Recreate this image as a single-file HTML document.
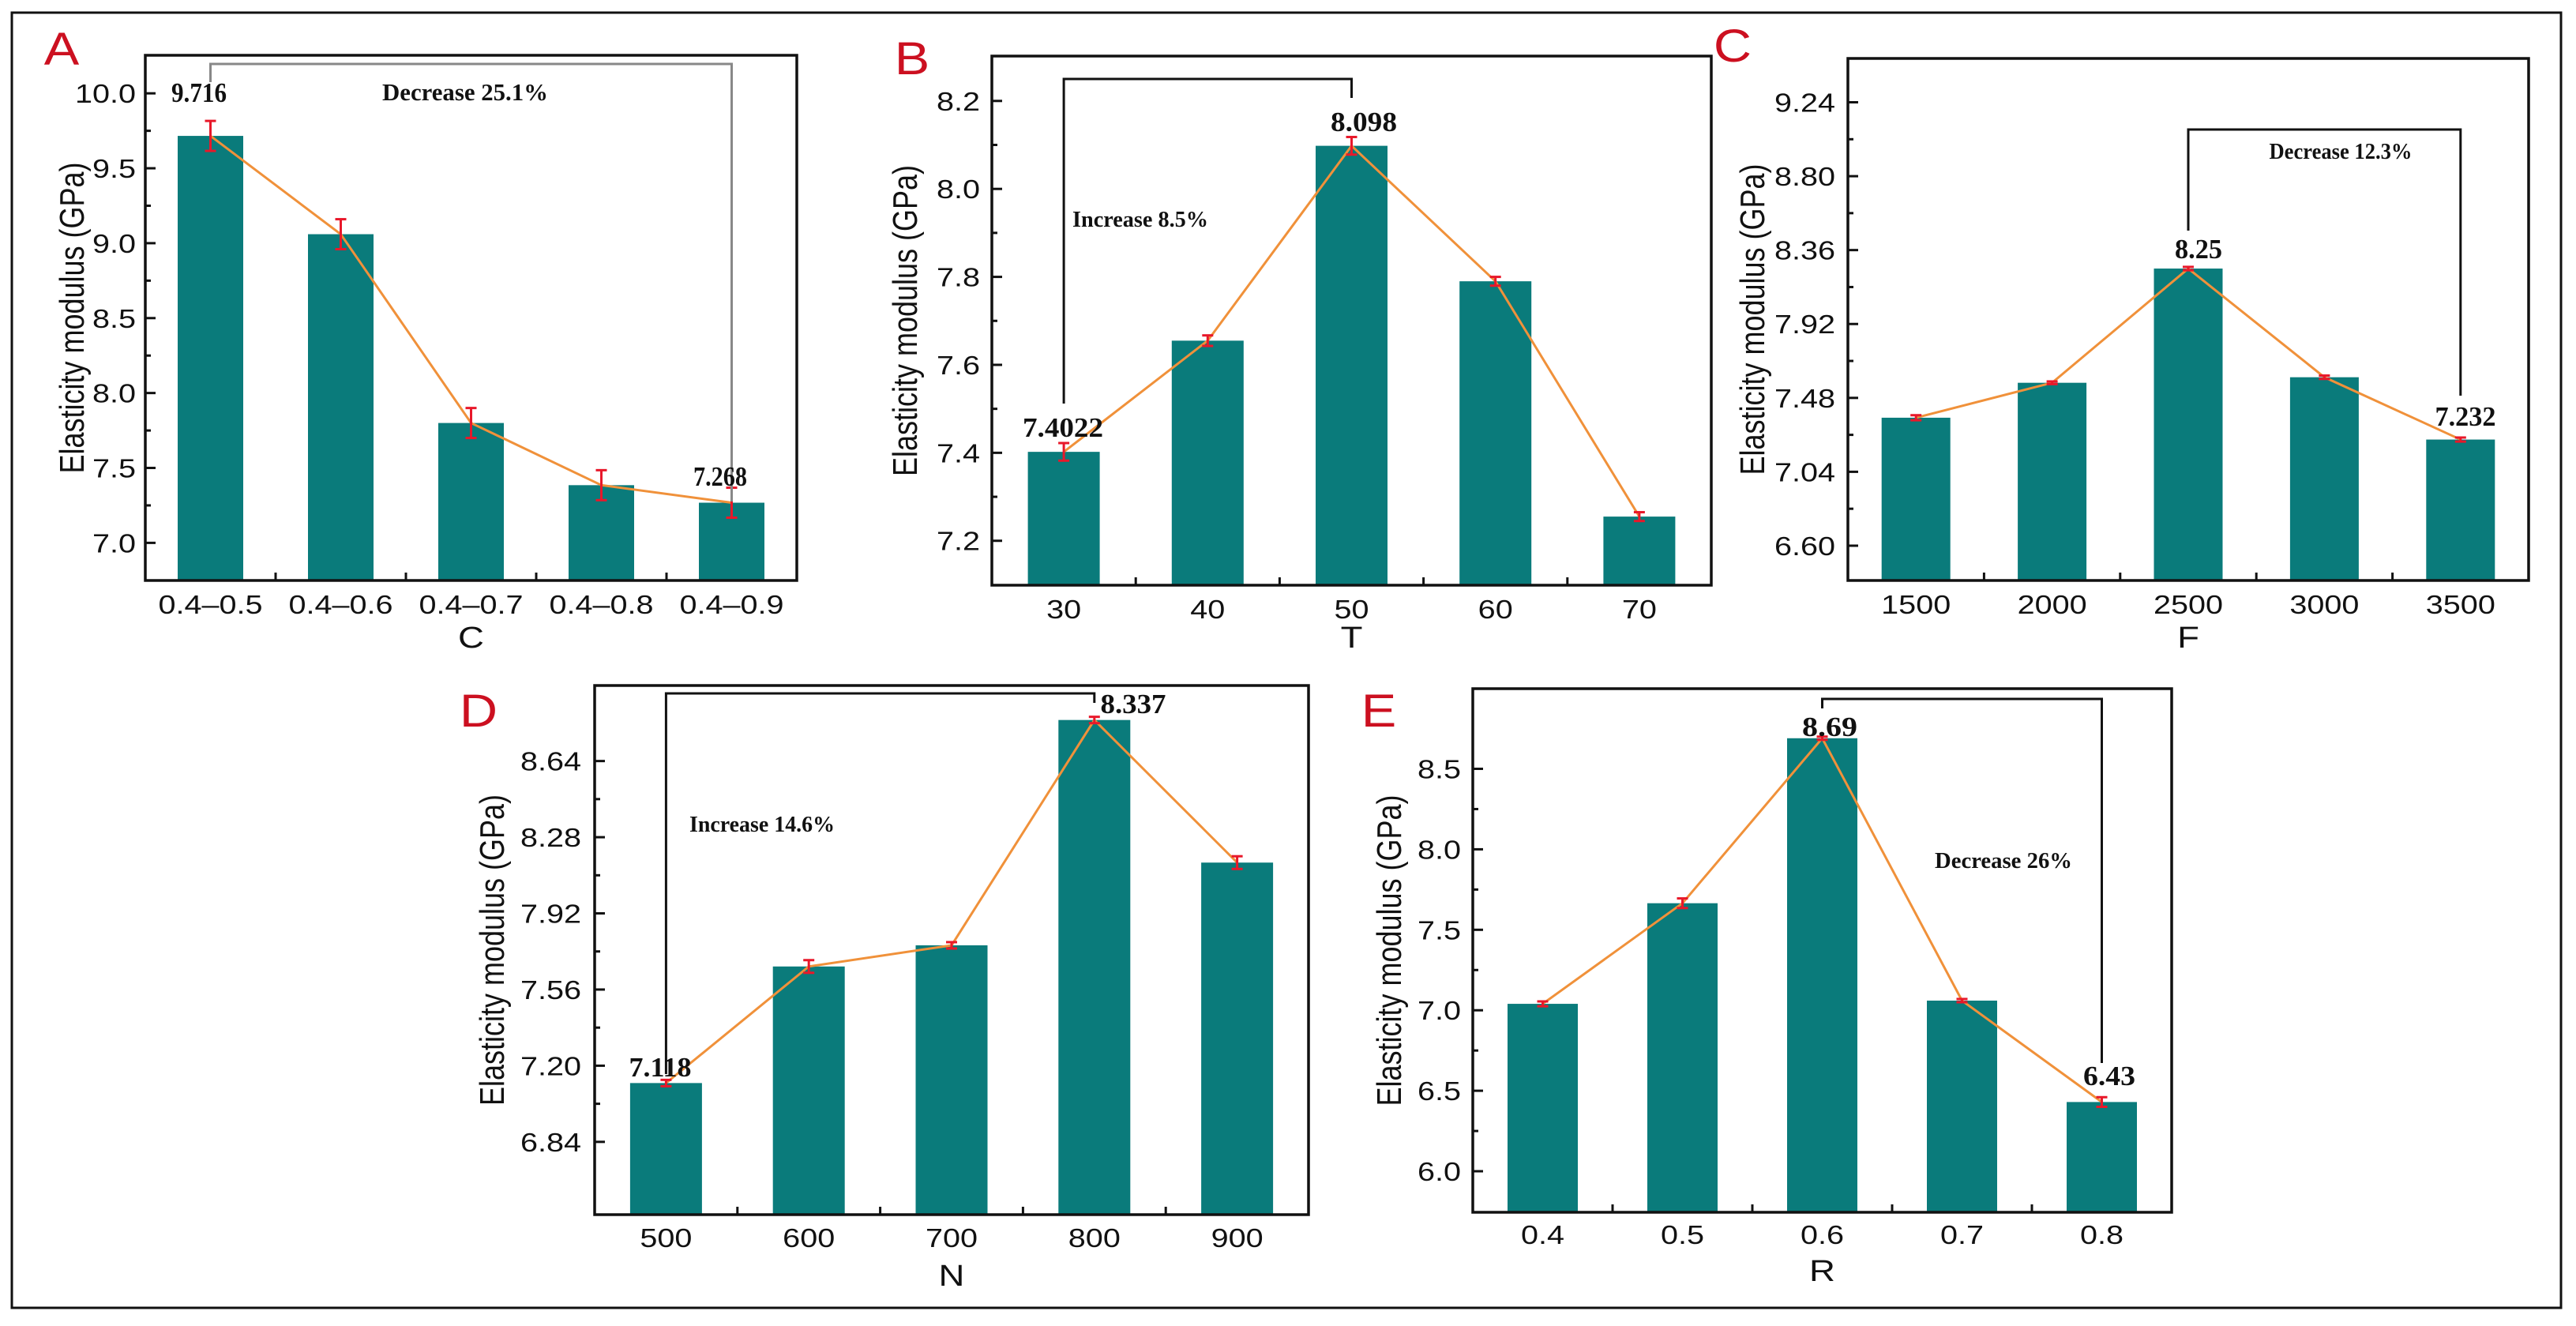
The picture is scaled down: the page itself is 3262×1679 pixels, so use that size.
<!DOCTYPE html>
<html><head><meta charset="utf-8"><style>
html,body{margin:0;padding:0;background:#fff}
svg{display:block}
</style></head><body>
<svg id="fig" xmlns="http://www.w3.org/2000/svg" width="3262" height="1679" viewBox="0 0 3262 1679">
<rect x="0" y="0" width="3262" height="1679" fill="#fff"/>
<rect x="15" y="16" width="3228" height="1640" fill="none" stroke="#111" stroke-width="3"/>
</svg>
<script>
// ---- data ----
const catsA = ["0.4\u20130.5","0.4\u20130.6","0.4\u20130.7","0.4\u20130.8","0.4\u20130.9"];
const valsA = [9.716, 9.06, 7.80, 7.385, 7.268];
const errsA = [0.1, 0.1, 0.1, 0.1, 0.1];
const ticksA = [7.0, 7.5, 8.0, 8.5, 9.0, 9.5, 10.0];
const tickLabelsA = ["7.0","7.5","8.0","8.5","9.0","9.5","10.0"];

const catsB = ["30","40","50","60","70"];
const valsB = [7.4022, 7.655, 8.098, 7.79, 7.255];
const errsB = [0.02, 0.012, 0.02, 0.01, 0.01];
const ticksB = [7.2, 7.4, 7.6, 7.8, 8.0, 8.2];
const tickLabelsB = ["7.2","7.4","7.6","7.8","8.0","8.2"];

const catsC = ["1500","2000","2500","3000","3500"];
const valsC = [7.362, 7.57, 8.25, 7.603, 7.232];
const errsC = [0.015, 0.008, 0.01, 0.01, 0.012];
const ticksC = [6.60, 7.04, 7.48, 7.92, 8.36, 8.80, 9.24];
const tickLabelsC = ["6.60","7.04","7.48","7.92","8.36","8.80","9.24"];

const catsD = ["500","600","700","800","900"];
const valsD = [7.118, 7.669, 7.769, 8.834, 8.16];
const errsD = [0.015, 0.03, 0.015, 0.015, 0.03];
const ticksD = [6.84, 7.20, 7.56, 7.92, 8.28, 8.64];
const tickLabelsD = ["6.84","7.20","7.56","7.92","8.28","8.64"];

const catsE = ["0.4","0.5","0.6","0.7","0.8"];
const valsE = [7.04, 7.665, 8.69, 7.06, 6.43];
const errsE = [0.015, 0.03, 0.01, 0.01, 0.03];
const ticksE = [6.0, 6.5, 7.0, 7.5, 8.0, 8.5];
const tickLabelsE = ["6.0","6.5","7.0","7.5","8.0","8.5"];

const NS = "http://www.w3.org/2000/svg";
const svg = document.getElementById("fig");
const SX = 1.2;
function mk(tag, attrs, parent){
  const e = document.createElementNS(NS, tag);
  for (const k in attrs) e.setAttribute(k, attrs[k]);
  (parent||svg).appendChild(e);
  return e;
}

function panel(cfg){
  const g = mk("g", {});
  
  
  const {L,R,T,B,ymin,ymax} = cfg;
  const n = cfg.cats.length;
  const step = (R - L) / n;
  const xs = i => L + step*(i+0.5);
  const ys = v => B - (v - ymin)/(ymax - ymin)*(B - T);
  cfg.vals.forEach((v,i)=>{
    const r = mk("rect",{x:xs(i)-cfg.bw/2, y:ys(v), width:cfg.bw, height:B-ys(v), fill:"#0a7b7b"}, g);
    
    
  });
  const pts = cfg.vals.map((v,i)=>xs(i)+","+ys(v)).join(" ");
  const pl = mk("polyline",{points:pts, fill:"none", stroke:"#f0913a", "stroke-width":3}, g);
  
  
  cfg.vals.forEach((v,i)=>{
    const x = xs(i), y1 = ys(v+cfg.errs[i]), y2 = ys(v-cfg.errs[i]);
    const eg = mk("g",{stroke:"#e8182a","stroke-width":3}, g);
    
    
    mk("line",{x1:x,y1:y1,x2:x,y2:y2}, eg);
    mk("line",{x1:x-7,y1:y1,x2:x+7,y2:y1}, eg);
    mk("line",{x1:x-7,y1:y2,x2:x+7,y2:y2}, eg);
  });
  const fr = mk("rect",{x:L,y:T,width:R-L,height:B-T,fill:"none",stroke:"#111","stroke-width":3.5}, g);
  
  
  cfg.ticks.forEach((t,i)=>{
    const y = ys(t);
    mk("line",{x1:L,y1:y,x2:L+13,y2:y,stroke:"#111","stroke-width":3}, g);
    if (i < cfg.ticks.length-1){
      const ym = ys((t + cfg.ticks[i+1])/2);
      mk("line",{x1:L,y1:ym,x2:L+7,y2:ym,stroke:"#111","stroke-width":3}, g);
    }
    const tx = mk("text",{transform:`translate(${cfg.tickEnd},${y+12}) scale(${SX},1)`,"text-anchor":"end","font-family":"Liberation Sans, sans-serif","font-size":33,fill:"#111"}, g);
    tx.textContent = cfg.tickLabels[i];
    
    
  });
  for (let i=1;i<n;i++){
    const x = L + step*i;
    mk("line",{x1:x,y1:B,x2:x,y2:B-10,stroke:"#111","stroke-width":3}, g);
  }
  cfg.cats.forEach((c,i)=>{
    const tx = mk("text",{transform:`translate(${xs(i)},${cfg.xLabY}) scale(${SX},1)`,"text-anchor":"middle","font-family":"Liberation Sans, sans-serif","font-size":33,fill:"#111"}, g);
    tx.textContent = c;
    
    
  });
  const xt = mk("text",{transform:`translate(${(L+R)/2},${cfg.xTitleY}) scale(${SX},1)`,"text-anchor":"middle","font-family":"Liberation Sans, sans-serif","font-size":38,fill:"#111"}, g);
  xt.textContent = cfg.xTitle;
  
  
  const yt = mk("text",{transform:`translate(${cfg.yTitleX},${(T+B)/2}) scale(${SX},1) rotate(-90)`,"text-anchor":"middle","font-family":"Liberation Sans, sans-serif","font-size":36,fill:"#111"}, g);
  yt.textContent = "Elasticity modulus (GPa)";
  
  
  const pt = mk("text",{transform:`translate(${cfg.letter[0]},${cfg.letter[1]}) scale(1.15,1)`,"text-anchor":"middle","font-family":"Liberation Sans, sans-serif","font-size":58,fill:"#cc1020"}, g);
  pt.textContent = cfg.id;
  
  
  const br = cfg.bracket;
  const bp = mk("polyline",{points:`${xs(br.i1)},${br.y1} ${xs(br.i1)},${br.top} ${xs(br.i2)},${br.top} ${xs(br.i2)},${br.y2}`,fill:"none",stroke:br.color,"stroke-width":3}, g);
  
  
  cfg.notes.forEach(nt=>{
    const t = mk("text",{x:nt[0],y:nt[1],"text-anchor":nt[5]||"middle","font-family":"Liberation Serif, serif","font-weight":"bold","font-size":nt[4],fill:"#111",textLength:nt[3],lengthAdjust:"spacingAndGlyphs"}, g);
    t.textContent = nt[2];
    
    
  });
}

panel({id:"A",cats:catsA,vals:valsA,errs:errsA,ticks:ticksA,tickLabels:tickLabelsA,
  L:184,R:1009,T:70,B:735,ymin:6.749,ymax:10.254,bw:83,tickEnd:172,xLabY:777,xTitleY:820,xTitle:"C",yTitleX:106,
  letter:[78,82],bracket:{i1:0,i2:4,top:81,y1:104,y2:635,color:"#888"},
  notes:[[252,129,"9.716",70,35],[589,127,"Decrease 25.1%",210,31],[912,615,"7.268",68,35]]});

panel({id:"B",cats:catsB,vals:valsB,errs:errsB,ticks:ticksB,tickLabels:tickLabelsB,
  L:1256,R:2167,T:71,B:741,ymin:7.099,ymax:8.302,bw:91,tickEnd:1241,xLabY:783,xTitleY:820,xTitle:"T",yTitleX:1161,
  letter:[1155,94],bracket:{i1:0,i2:2,top:100,y1:511,y2:124,color:"#111"},
  notes:[[1727,166,"8.098",84,35],[1346,553,"7.4022",102,35],[1358,287,"Increase 8.5%",172,29,"start"]]});

panel({id:"C",cats:catsC,vals:valsC,errs:errsC,ticks:ticksC,tickLabels:tickLabelsC,
  L:2340,R:3202,T:74,B:735,ymin:6.393,ymax:9.501,bw:87,tickEnd:2324,xLabY:777,xTitleY:820,xTitle:"F",yTitleX:2234,
  letter:[2194,78],bracket:{i1:2,i2:4,top:164,y1:292,y2:501,color:"#111"},
  notes:[[2964,201,"Decrease 12.3%",181,28],[2784,327,"8.25",60,35],[3122,539,"7.232",77,35]]});

panel({id:"D",cats:catsD,vals:valsD,errs:errsD,ticks:ticksD,tickLabels:tickLabelsD,
  L:753,R:1657,T:868,B:1538,ymin:6.496,ymax:8.997,bw:91,tickEnd:736,xLabY:1579,xTitleY:1628,xTitle:"N",yTitleX:638,
  letter:[606,920],bracket:{i1:0,i2:3,top:878,y1:1360,y2:890,color:"#111"},
  notes:[[1435,903,"8.337",83,35],[836,1363,"7.118",79,35],[873,1053,"Increase 14.6%",184,29,"start"]]});

panel({id:"E",cats:catsE,vals:valsE,errs:errsE,ticks:ticksE,tickLabels:tickLabelsE,
  L:1865,R:2750,T:872,B:1535,ymin:5.745,ymax:8.998,bw:89,tickEnd:1850,xLabY:1575,xTitleY:1622,xTitle:"R",yTitleX:1774,
  letter:[1746,920],bracket:{i1:2,i2:4,top:885,y1:897,y2:1346,color:"#111"},
  notes:[[2317,932,"8.69",70,35],[2671,1374,"6.43",66,35],[2537,1099,"Decrease 26%",174,29]]});
</script>
</body></html>
